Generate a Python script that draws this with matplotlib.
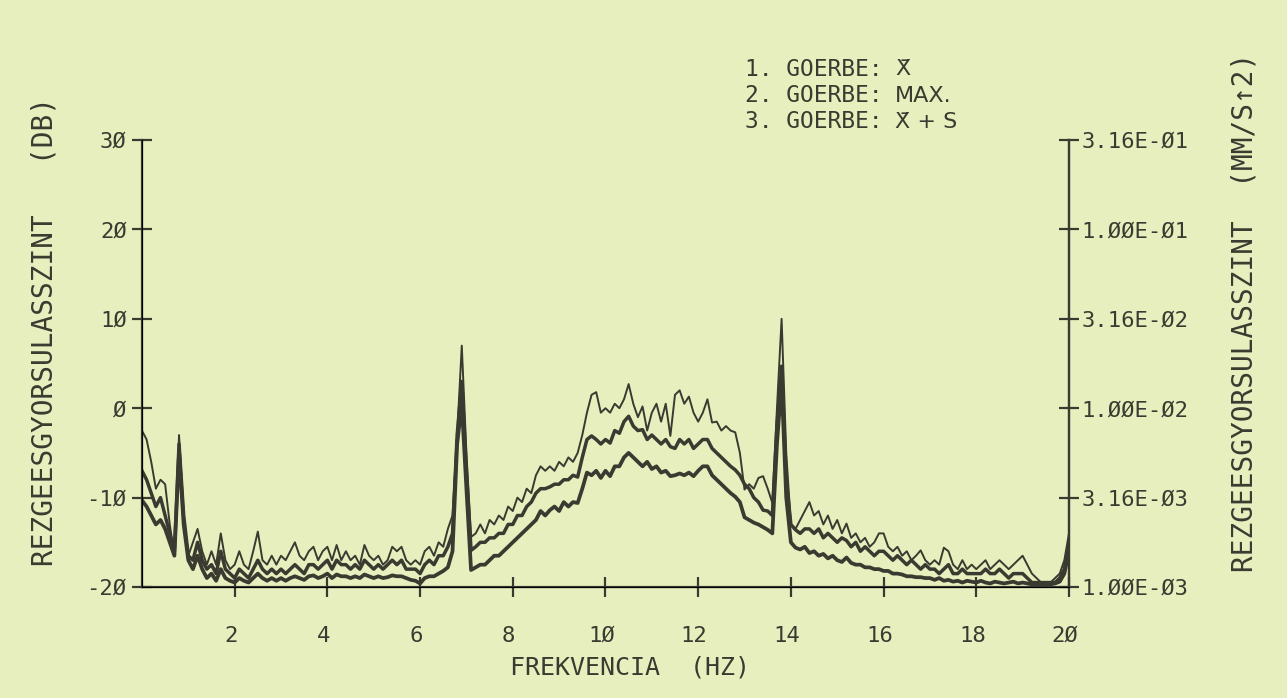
import numpy as np
import matplotlib
matplotlib.use("Agg")
import matplotlib.pyplot as plt
import matplotlib.transforms as mtransforms

freq = np.round(np.arange(0, 20.01, 0.1), 2)

curve_max = [
    -2.5, -3.5, -6, -9, -8, -8.5, -13, -16.5, -3, -12,
    -16.5, -15, -13.5, -16, -17.5, -16, -17.5, -14, -17, -18,
    -17.5, -16, -17.5, -18, -16, -13.8, -17, -17.5, -16.5, -17.5,
    -16.5, -17, -16, -15, -16.5, -17, -16, -15.5, -17, -16,
    -15.5, -17, -15.3, -17, -16, -17, -16.5, -17.5, -15.3, -16.5,
    -17, -16.5, -17.5, -17, -15.5, -16, -15.5, -17, -17.5, -17,
    -17.5, -16, -15.5, -16.5, -15, -15.5, -13.5, -12, -3, 7,
    -5, -14.4, -14, -13, -14, -12.5, -13, -12, -12.5, -11,
    -11.5, -10, -10.5, -9, -9.5, -7.5, -6.5, -7, -6.5, -7,
    -6, -6.5, -5.5, -6, -5, -3, -0.5, 1.5, 1.8, -0.5,
    0, -0.5, 0.5, 0, 1, 2.7, 0.5, -1, 0.2, -2.5,
    -0.5, 0.5, -1.5, 0.5, -3.1, 1.5, 2.0, 0.5, 1.3, -0.5,
    -1.5, -0.5, 1.0, -1.6, -1.5, -2.5, -2.0, -2.5, -2.7, -5,
    -9.1, -8.5, -9, -7.8, -7.6, -9, -10.6, 0, 10, -5,
    -13, -13.5, -12.5, -11.5, -10.5, -12, -11.5, -13, -12, -13.5,
    -12.5, -14, -12.9, -14.5, -14, -15, -14.5, -15.5, -15, -14,
    -14, -15.5, -16, -15.5, -16.5, -16, -17, -16.5, -15.9, -17,
    -17.5, -17, -17.5, -15.6, -16, -17.5, -18, -17, -18, -17.5,
    -18, -17.5, -17, -18, -17.5, -17, -17.5, -18, -17.5, -17,
    -16.5, -17.5, -18.5, -19, -19.5, -19.5, -19.5, -19, -18.5, -17,
    -14,
]

curve_mean_s = [
    -7, -8, -9.5, -11, -10, -12, -14, -16, -4, -12,
    -16.5, -17, -15, -17, -18, -17.5, -18.5, -16, -18, -18.5,
    -19, -18, -18.5, -19, -18, -17, -18, -18.5, -18, -18.5,
    -18, -18.5, -18, -17.5, -18, -18.5, -17.5, -17.5, -18, -17.5,
    -17, -18, -17, -17.5, -17.5, -18, -17.5, -18, -17, -17.5,
    -18, -17.5, -18, -17.5, -17, -17.5, -17, -18, -18, -18,
    -18.5, -17.5, -17, -17.5, -16.5, -16.5, -15.5, -14, -3, 3,
    -7, -15.9, -15.5, -15, -15, -14.5, -14.5, -14, -14, -13,
    -13, -12, -12, -11, -10.5, -9.5, -9, -9, -8.8, -8.5,
    -8.5, -8, -8, -7.5, -7.7, -5.5, -3.5, -3.1, -3.5, -4,
    -3.5, -3.9, -2.5, -2.8, -1.5, -0.9, -2.0, -2.5, -2.4, -3.5,
    -3, -3.5, -4, -3.5, -4.3, -4.5, -3.5, -4, -3.5, -4.5,
    -4, -3.5, -3.5, -4.5, -5, -5.5, -6, -6.5, -6.9, -7.5,
    -8.5, -9, -10, -10.5, -11.4, -11.5, -12, -2, 4.7, -8,
    -13, -13.6, -14, -13.5, -13.5, -14, -13.5, -14.5, -14, -14.5,
    -15, -14.5, -14.8, -15.5, -15, -16, -15.5, -16, -16.5, -16,
    -16, -16.5, -17, -16.5, -17, -17.5, -17, -17.5, -18, -17.5,
    -18, -18, -18.5, -18, -17.5, -18.5, -18.5, -18, -18.5, -18.5,
    -18.5, -18.5, -18, -18.5, -18.5, -18, -18.5, -19, -18.5, -18.5,
    -18.5, -19, -19.5, -19.5, -19.5, -19.5, -19.5, -19.5, -19, -18,
    -15,
]

curve_mean = [
    -10.3, -11, -12, -13, -12.5, -13.5, -15, -16.5, -5, -13,
    -17, -18, -16.5, -18, -19, -18.5, -19.3, -18, -19, -19.3,
    -19.5, -19, -19.3, -19.5, -19, -18.5, -19, -19.3, -19, -19.3,
    -19, -19.3, -19, -18.8, -19, -19.2, -18.8, -18.7, -19, -18.8,
    -18.5, -19, -18.6, -18.8, -18.8, -19, -18.8, -19, -18.6, -18.8,
    -19, -18.8, -19, -18.9, -18.7, -18.8, -18.8, -19, -19.2, -19.3,
    -19.6, -19, -18.8, -18.8, -18.5, -18.2, -17.8, -16, -4, 0.5,
    -9, -18.1, -17.8, -17.5, -17.5, -17, -16.5, -16.5, -16, -15.5,
    -15, -14.5, -14, -13.5, -13, -12.5, -11.5, -12, -11.4, -11,
    -11.5, -10.5, -11, -10.5, -10.6, -9, -7.2, -7.5, -7, -7.8,
    -7, -7.6, -6.5, -6.5, -5.5, -5.0, -5.5, -6, -6.5, -6,
    -6.8, -6.5, -7.2, -7, -7.6, -7.5, -7.3, -7.5, -7.2, -7.6,
    -7, -6.5, -6.5, -7.5, -8, -8.5, -9, -9.5, -9.9, -10.5,
    -12.2, -12.5, -12.8, -13, -13.3, -13.6, -14, -4, 3, -10,
    -15, -15.6, -15.8, -15.5, -16.2, -16, -16.5, -16.3, -16.8, -16.5,
    -17, -17.2, -16.7, -17.3, -17.5, -17.5, -17.8, -17.8, -18, -18,
    -18.2, -18.2, -18.5, -18.5, -18.6, -18.8, -18.8, -18.9, -18.9, -19,
    -19, -19.2, -19, -19.3, -19.2, -19.4, -19.3, -19.5, -19.3, -19.4,
    -19.5, -19.3, -19.5, -19.6, -19.4, -19.5, -19.6, -19.5, -19.4, -19.6,
    -19.5, -19.6, -19.7, -19.7, -19.7, -19.7, -19.7, -19.6, -19.4, -18.5,
    -16,
]

left_ticks = [-20, -10, 0, 10, 20, 30]
left_labels = ["-2\u00d8", "-1\u00d8", "\u00d8", "1\u00d8", "2\u00d8", "3\u00d8"]
x_ticks = [2, 4, 6, 8, 10, 12, 14, 16, 18, 20]
x_labels = ["2", "4", "6", "8", "1\u00d8", "12", "14", "16", "18", "2\u00d8"]
right_labels = ["1.\u00d8\u00d8E-\u00d83", "3.16E-\u00d83", "1.\u00d8\u00d8E-\u00d82",
                "3.16E-\u00d82", "1.\u00d8\u00d8E-\u00d81", "3.16E-\u00d81"]
legend_heads = ["1. GOERBE:", "2. GOERBE:", "3. GOERBE:"]
legend_tails = ["X\u0304", "MAX.", "X\u0304 + S"]
x_title = "FREKVENCIA  (HZ)"
left_title = "REZGEESGYORSULASSZINT   (DB)"
right_title = "REZGEESGYORSULASSZINT  (MM/S\u21912)"

bg = "#e7efbf"
ink = "#3a3a30"
mono = "DejaVu Sans Mono"

fig = plt.figure(figsize=(12.87, 6.98), dpi=100, facecolor=bg)
ax = fig.add_axes([0.1103, 0.159, 0.7203, 0.6404])
ax.set_facecolor(bg)

ax.plot(freq, curve_max, color=ink, lw=1.4, solid_joinstyle="round")
ax.plot(freq, curve_mean_s, color=ink, lw=2.5, solid_joinstyle="round")
ax.plot(freq, curve_mean, color=ink, lw=2.7, solid_joinstyle="round")

ax.set_xlim(0, 20)
ax.set_ylim(-20, 30)
ax.spines["top"].set_visible(False)
for s in ["left", "bottom", "right"]:
    ax.spines[s].set_color(ink)
    ax.spines[s].set_linewidth(1.6)

fnt = dict(family=mono, size=16, color=ink)
ax.set_yticks(left_ticks)
ax.set_yticklabels(left_labels, **fnt)
ax.set_xticks(x_ticks)
ax.set_xticklabels(x_labels, **fnt)
ax.tick_params(axis="x", direction="inout", length=14, width=1.6, color=ink, pad=21)
ax.tick_params(axis="y", direction="inout", length=14, width=1.6, color=ink, pad=4)
offset = mtransforms.ScaledTranslation(-4 / 100, 0, fig.dpi_scale_trans)
for lbl in ax.get_xticklabels():
    lbl.set_transform(lbl.get_transform() + offset)

ax2 = ax.twinx()
ax2.set_ylim(-20, 30)
ax2.spines["top"].set_visible(False)
ax2.spines["right"].set_color(ink)
ax2.spines["right"].set_linewidth(1.6)
ax2.set_yticks(left_ticks)
ax2.set_yticklabels(right_labels, **fnt)
ax2.tick_params(axis="y", direction="inout", length=14, width=1.6, color=ink, pad=2)

fig.text(630 / 1287, 1 - 668 / 698, x_title, family=mono, size=18, color=ink,
         ha="center", va="center")
fig.text(45 / 1287, 1 - 332 / 698, left_title, family=mono, size=20, color=ink,
         ha="center", va="center", rotation=90)
fig.text(1245 / 1287, 1 - 312 / 698, right_title, family=mono, size=20, color=ink,
         ha="center", va="center", rotation=90)

for i, (h, t) in enumerate(zip(legend_heads, legend_tails)):
    yy = 1 - (69 + i * 26.5) / 698
    fig.text(745 / 1287, yy, h, family=mono, size=16.5, color=ink, va="center", ha="left")
    fig.text(895 / 1287, yy, t, family="DejaVu Sans", size=16, color=ink,
             va="center", ha="left")

fig.savefig("out.png", dpi=100, facecolor=bg)
